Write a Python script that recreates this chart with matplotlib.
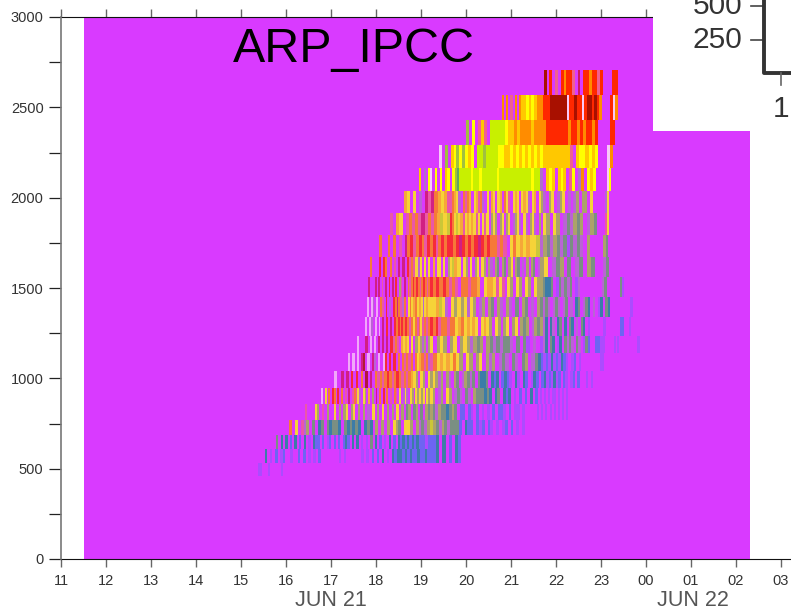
import numpy as np
import matplotlib
matplotlib.use("Agg")
import matplotlib.pyplot as plt
from matplotlib.colors import ListedColormap, BoundaryNorm
from matplotlib.patches import Rectangle
from matplotlib.lines import Line2D

W, H = 791, 614
plt.rcParams['font.family'] = ['Liberation Sans', 'DejaVu Sans']

# height edges of the model levels, top to bottom (m)
level_edges = [2706, 2568, 2430, 2291, 2164, 2037, 1915, 1793, 1671, 1561, 1450,
               1339, 1234, 1140, 1040, 946, 858, 769, 686, 609, 531, 459]

# colour classes
class_codes = ".vbtglLYoOrdpmwc"
class_colors = ["#D93AFF", "#A050FF", "#5070F0", "#109090", "#60A860", "#A0C040",
                "#C8F000", "#FFFF00", "#FFC800", "#FF8C00", "#FF2800", "#A81000",
                "#F06090", "#B070C8", "#F8C8F8", "#D01860"]

# each level: (start hour, end hour, class of each time step)
row_00 = [(21.73, 23.04, "d.r.p.rOrrp.c.rrOrrpr"), (23.24, 23.38, "rr")]
row_01 = [(20.80, 21.27, "O.O.p.O.Oo"), (21.27, 21.64, "oYoYoO"), (21.64, 21.87, "Orr"),
          (21.87, 22.24, "dddddd"), (22.24, 23.02, "wrrdrrwrddrdrO"), (23.20, 23.38, "rwO")]
row_02 = [(20.00, 20.53, "l.Y.pop."), (20.53, 20.93, "LLLLLY"), (20.93, 21.71, "ooOoOOOOoOOO"),
          (21.71, 22.53, "OrrrrrrrOrrO"), (22.53, 22.93, "rOrrOr"), (23.20, 23.31, "rr")]
row_03 = [(19.40, 20.24, "w.l.oYlYlYoY."), (20.24, 20.98, "LLlLLLLYYoo"), (20.98, 21.71, "YoYoYoYoYoY"),
          (21.71, 22.31, "ooooooooo"), (22.31, 22.93, "p.oYYoYoY"), (23.13, 23.27, "wO")]
row_04 = [(18.96, 19.20, "o.m.Y"), (19.20, 19.91, "w.Y.Y.oY.YlgL"), (19.91, 21.64, "LLLYLLYLLLLLYLLLLLLLLLLLYLL"),
          (21.64, 22.89, "m.oYo.oYo.pY.mO.YoY"), (23.13, 23.22, "wY")]
row_05 = [(18.62, 19.64, "oY.Y.m.cpcOoYop"), (19.64, 21.71, "pOoYm.OpOo.YopOm.Y.oY.Yo.OYp.YoY.YoYm.Yo.Yl"),
          (21.71, 22.82, "m.lY.mlY.m.ml.ll.Y"), (23.09, 23.18, "mY")]
row_06 = [(18.31, 19.64, "p.oY.pOpOpcpOpOoLYL"), (19.64, 19.78, "rOY"), (19.78, 21.71, "LYopYoYoYpY.YpY.lYl.lY.lY.mlYm.Ym.lYm.l."),
          (21.71, 22.91, "Yl.Yl.mgmlgl.mlg"), (23.09, 23.18, "pY")]
row_07 = [(18.07, 19.64, "O..O.O.p.cOrpOrOprOrpOrOr"), (19.64, 20.53, "rOrcrOrOrcrOr"),
          (20.53, 21.64, "OOpOp.YOYoYoYYL"), (21.64, 22.76, "mlgmlgmgvgmgm.l"), (23.04, 23.16, "lg")]
row_08 = [(17.87, 19.64, "O...r.rO.O.p.c.c.rpOpYmY.Y.Y.o.YY.Y.l"), (19.64, 21.64, "YLoYY.Yl.Y.lY.Yl.lm.lg.lg.lY.lg.m.l.lg.m"),
          (21.64, 22.87, "lY.mgl.g.mg.lg"), (23.04, 23.18, "mg")]
row_09 = [(17.82, 19.20, "c...c.c.p.c.r.c.r.lp.c.OpOrOrOpOrOpO"), (19.20, 20.53, "rOrOrOpOp.OOpOOo.Yo"),
          (20.53, 21.64, "oYpYp.Yl.Yl.Yl.Yl"), (21.64, 22.60, "lgttg.vgmgmg.vm."), (23.02, 23.13, "mg"), (23.42, 23.51, "gv")]
row_10 = [(17.80, 19.20, "w.wm.w.Op.r.m.rOcOpmO.YOYoOYoYmYoY"), (19.20, 21.71, "YYoLYm.YlYlYmYl.ml.lg.lm.lm.g.lg.m.lg"),
          (21.71, 23.20, "mgm.mgm.mg.m.tg.mgt.m.vt.gt"), (23.64, 23.72, "vv")]
row_11 = [(17.76, 19.20, "w.wm.w.w.c.r.c.rOrOrOrOpOYOpOYpOpO"), (19.20, 21.71, "rOrpOOpOOYoOYoYoY.YoYl.Yl.lY.lY.lgl.mlgl"),
          (21.71, 22.76, "mt.tm.tg.t.gt.m.gt.v"), (23.04, 23.11, "v"), (23.42, 23.51, "bb"), (23.62, 23.67, "v")]
row_12 = [(17.58, 19.20, "w...c.w.w.c.c.c.rpOp.oYoY.Y.lYlml.l"), (19.20, 21.71, "Y.lYl.lY.lYlmlgl.lgmgmggm.g.gv.m.v"),
          (21.71, 22.76, "mt.gt.vt.gmgm.gm.vgb"), (22.87, 23.09, "bv"), (23.29, 23.40, "v.v"), (23.80, 23.87, "v")]
row_13 = [(17.38, 19.20, "w.w.w.cd.w.cm.w.wr.r.r.O.OpOpO.OYoOpOm"), (19.20, 21.60, "pOYoYoYOYl.Yl.lY.lml.mgm.gm.gl.mg"),
          (21.60, 22.56, "tbvbvtvbvtbv.vb.v"), (22.98, 23.07, "vv")]
row_14 = [(17.07, 19.20, "w..c.c.r.r.O.d.c.OpOpOrOpOrOpOpOoYl.Yl.Y"), (19.20, 21.73, "lYlml.lm.lg.mlgmg.gttg.tbt.btbv.tv.tb.vtb.b"),
          (21.73, 22.53, "tvbvtvb.bv.vb.b"), (22.67, 22.82, "v.v")]
row_15 = [(16.78, 19.20, "w.Y.O.rO.r.O.p.c.pOpYm.Yl.o.l.c.O.r.O.p.Op.Y.mYm.Yl.YlYlY.Yl"),
          (19.20, 21.60, "Yl.ml.Yl.mgm.gm.lgggtgt.tg.tbt.v.b.b.t.b"), (21.64, 22.27, "v.v.v.vv.v.v.v")]
row_16 = [(16.42, 19.20, "p...Yl.p.l..Y.l.lY.lY.l.l.m.Y.l.Y.l.l.Y.l.gl.gl.g.lg"),
          (19.20, 21.31, "lgmlggtglg.bb.bv.b.v.v.b.bbv.b.vv.v"), (21.58, 22.27, "v.v.v.v.v.v.v.v")]
row_17 = [(16.07, 19.20, "O.Y.pml.g.tg.gtggt.gtgtgt.tgt.l.l.l.Ylg.YYl.lmgml"),
          (19.20, 21.31, "Llgmlgmgggb.tbb.bvb.bv.v.vb.b.v.v")]
row_18 = [(15.78, 19.20, "g.t.t.b.t.b.t.v.tbb.b.vb.b.b.btb.t.t.v.v.g.t.b.v.t.b.tbtbtbtbtbbbvb"),
          (19.20, 19.89, "bbt.t.b.tb")]
row_19 = [(15.53, 19.20, "t.v.b.vb..v..b.b.v.v.b.......v.v......v.v.b.b.t.v.tbttbtbtbbtbbtb"),
          (19.20, 19.89, "bbt.t.b.tb")]
row_20 = [(15.38, 15.93, "vv...v.....v")]
rows = [row_00, row_01, row_02, row_03, row_04, row_05, row_06, row_07, row_08, row_09, row_10,
        row_11, row_12, row_13, row_14, row_15, row_16, row_17, row_18, row_19, row_20]

# background field extent
field_hours = [11.51, 26.31]
field_heights = [0, 3000]

# axis labels
x_hours = list(range(11, 28))
x_labels = ["11", "12", "13", "14", "15", "16", "17", "18", "19", "20", "21", "22", "23",
            "00", "01", "02", "03"]
y_major = [0, 500, 1000, 1500, 2000, 2500, 3000]
y_minor = [250, 750, 1250, 1750, 2250, 2750]
title_text = "ARP_IPCC"

fig = plt.figure(figsize=(W / 100, H / 100), dpi=100, facecolor="white")
ax = fig.add_axes([61 / W, 1 - 559 / H, (W - 61) / W, 542 / H])
ax.set_xlim(11, 11 + (W - 61) / 45)
ax.set_ylim(0, 3000)

cmap = ListedColormap(class_colors)
norm = BoundaryNorm(np.arange(len(class_colors) + 1) - 0.5, len(class_colors))

ax.pcolormesh(field_hours, field_heights, [[0]], cmap=cmap, norm=norm, zorder=1)
for r, segments in enumerate(rows):
    top, bottom = level_edges[r], level_edges[r + 1]
    fade = 1.0 if r < 5 else 0.78
    for start, end, codes in segments:
        vals = np.array([[class_codes.index(c) for c in codes]])
        xe = np.linspace(start, end, len(codes) + 1)
        ax.pcolormesh(xe, [bottom, top], vals, cmap=cmap, norm=norm, zorder=2,
                      antialiased=False, alpha=fade)

for s in ("top", "bottom"):
    ax.spines[s].set_linewidth(0.8)
    ax.spines[s].set_color("#111111")
ax.spines["right"].set_visible(False)
ax.spines["left"].set_linewidth(1.2)
ax.spines["left"].set_color("#777777")
ax.spines["left"].set_zorder(6)

ax.set_xticks(x_hours)
ax.set_xticklabels(x_labels, fontsize=10.5, color="#333333")
ax.tick_params(axis="x", which="major", direction="out", length=5.5, width=1.0, color="#666666",
               pad=5, top=True)
ax.set_yticks(y_major)
ax.set_yticks(y_minor, minor=True)
ax.set_yticklabels([str(v) for v in y_major], fontsize=10.5, color="#333333")
ax.tick_params(axis="y", which="both", direction="out", length=8.6, width=0.9, color="#222222", pad=4)

fig.text(331 / W, 1 - 600 / H, "JUN 21", fontsize=15.5, color="#555555", ha="center", va="center")
fig.text(693 / W, 1 - 600 / H, "JUN 22", fontsize=15.5, color="#555555", ha="center", va="center")
fig.text(233 / W, 1 - 49 / H, title_text, fontsize=34.8, color="black", ha="left", va="center", zorder=20)

# pasted corner of another panel, top right
fig.add_artist(Rectangle((653 / W, 1 - 131 / H), (W - 653) / W, 131 / H, transform=fig.transFigure,
                         facecolor="white", edgecolor="none", zorder=10))
for label, py in (("500", 6), ("250", 40)):
    fig.text(742 / W, 1 - py / H, label, fontsize=21.5, color="#333333", ha="right", va="center", zorder=11)
    fig.add_artist(Line2D([751 / W, 763 / W], [1 - py / H, 1 - py / H], color="#444444", lw=1.2, zorder=11))
fig.add_artist(Line2D([764 / W, 764 / W, W / W], [1, 1 - 73 / H, 1 - 73 / H], color="#333333", lw=2.8, zorder=11))
fig.add_artist(Line2D([781 / W, 781 / W], [1 - 73 / H, 1 - 85 / H], color="#666666", lw=1.2, zorder=11))
fig.text(781 / W, 1 - 109 / H, "1", fontsize=21.5, color="#333333", ha="center", va="center", zorder=11)

fig.savefig("out.png", dpi=100, facecolor="white")
